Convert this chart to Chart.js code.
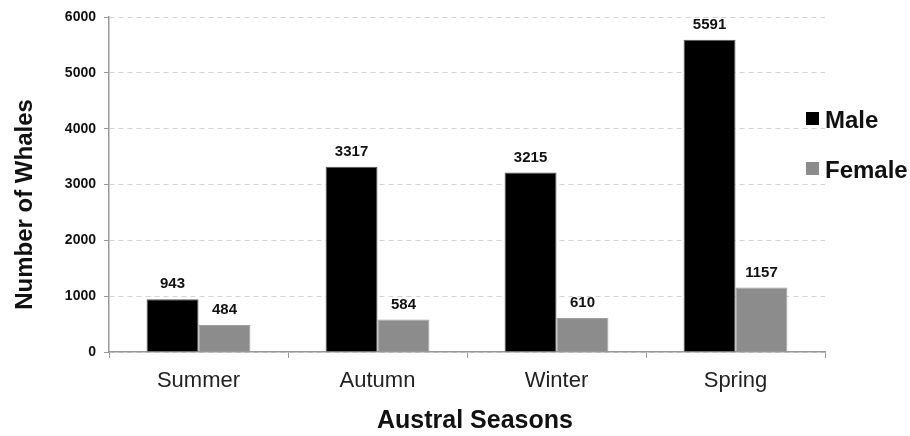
<!DOCTYPE html>
<html>
<head>
<meta charset="utf-8">
<script src="https://cdn.jsdelivr.net/npm/chart.js@4/dist/chart.umd.min.js"></script>
<style>
  html, body { margin: 0; padding: 0; background: #fff; }
  #wrap { width: 910px; height: 436px; position: relative; }
</style>
</head>
<body>
<div id="wrap"><canvas id="whaleChart"></canvas></div>
<script>
// Whale counts per austral season
const seasons = ['Summer', 'Autumn', 'Winter', 'Spring'];
const maleCounts = [943, 3317, 3215, 5591];
const femaleCounts = [484, 584, 610, 1157];
const yTicks = [0, 1000, 2000, 3000, 4000, 5000, 6000];
const xTitle = 'Austral Seasons';
const yTitle = 'Number of Whales';

const FONT = '"Liberation Sans", Arial, Helvetica, sans-serif';

// Value labels above each bar
const barValueLabels = {
    id: 'barValueLabels',
    afterDatasetsDraw(chart) {
        const ctx = chart.ctx;
        ctx.save();
        ctx.font = 'bold 15px ' + FONT;
        ctx.fillStyle = '#111';
        ctx.textAlign = 'center';
        ctx.textBaseline = 'middle';
        chart.data.datasets.forEach((ds, i) => {
            chart.getDatasetMeta(i).data.forEach((bar, j) => {
                ctx.fillText(String(ds.data[j]), bar.x, bar.y - 15);
            });
        });
        ctx.restore();
    }
};

// Axis titles, placed a little off the plot centre
const axisTitles = {
    id: 'axisTitles',
    afterDraw(chart) {
        const ctx = chart.ctx;
        const area = chart.chartArea;
        ctx.save();
        ctx.font = 'bold 25px ' + FONT;
        ctx.fillStyle = '#111';
        ctx.textAlign = 'center';
        ctx.textBaseline = 'middle';
        ctx.fillText(xTitle, (area.left + area.right) / 2 + 8, 421);
        ctx.font = 'bold 24px ' + FONT;
        ctx.translate(25, (area.top + area.bottom) / 2 + 20);
        ctx.rotate(-Math.PI / 2);
        ctx.fillText(yTitle, 0, 0);
        ctx.restore();
    }
};

// Legend to the right of the plot
const sideLegend = {
    id: 'sideLegend',
    afterDraw(chart) {
        const ctx = chart.ctx;
        const right = chart.chartArea.right;
        ctx.save();
        ctx.font = 'bold 24px ' + FONT;
        ctx.textBaseline = 'middle';
        ctx.textAlign = 'left';
        chart.data.datasets.forEach((ds, i) => {
            const cy = 119 + i * 50;
            ctx.fillStyle = ds.backgroundColor;
            ctx.fillRect(right - 19, cy - 7, 13, 13);
            ctx.fillStyle = '#111';
            ctx.fillText(ds.label, right, cy + 2);
        });
        ctx.restore();
    }
};

const ctx = document.getElementById('whaleChart').getContext('2d');
new Chart(ctx, {
    type: 'bar',
    data: {
        labels: seasons,
        datasets: [{
            label: 'Male',
            data: maleCounts,
            backgroundColor: '#000000',
            borderColor: '#555555',
            borderWidth: 1
        }, {
            label: 'Female',
            data: femaleCounts,
            backgroundColor: '#8c8c8c',
            borderColor: '#a0a0a0',
            borderWidth: 1
        }]
    },
    options: {
        responsive: true,
        maintainAspectRatio: false,
        animation: false,
        devicePixelRatio: 1,
        layout: { padding: { top: 17, right: 85, left: 0, bottom: 0 } },
        datasets: {
            bar: { barPercentage: 1.0, categoryPercentage: 0.58 }
        },
        plugins: {
            legend: { display: false },
            tooltip: { enabled: false }
        },
        scales: {
            x: {
                grid: {
                    display: true,
                    drawOnChartArea: false,
                    drawTicks: true,
                    tickLength: 6,
                    color: '#999999',
                    offset: true
                },
                border: { color: '#999999', width: 1.5 },
                ticks: {
                    color: '#222',
                    font: { family: FONT, size: 22 },
                    padding: 10
                },
                afterFit(scale) { scale.height = 84; }
            },
            y: {
                min: 0,
                max: 6000,
                afterBuildTicks(scale) {
                    scale.ticks = yTicks.map(v => ({ value: v }));
                },
                grid: {
                    color: '#d4d4d4',
                    lineWidth: 1,
                    drawTicks: true,
                    tickLength: 5,
                    tickColor: '#999999'
                },
                border: { color: '#999999', width: 1.5, dash: [5, 4] },
                ticks: {
                    color: '#111',
                    font: { family: FONT, size: 14, weight: 'bold' },
                    padding: 8,
                    callback: v => String(v)
                },
                afterFit(scale) { scale.width = 109; }
            }
        }
    },
    plugins: [barValueLabels, axisTitles, sideLegend]
});
</script>
</body>
</html>
